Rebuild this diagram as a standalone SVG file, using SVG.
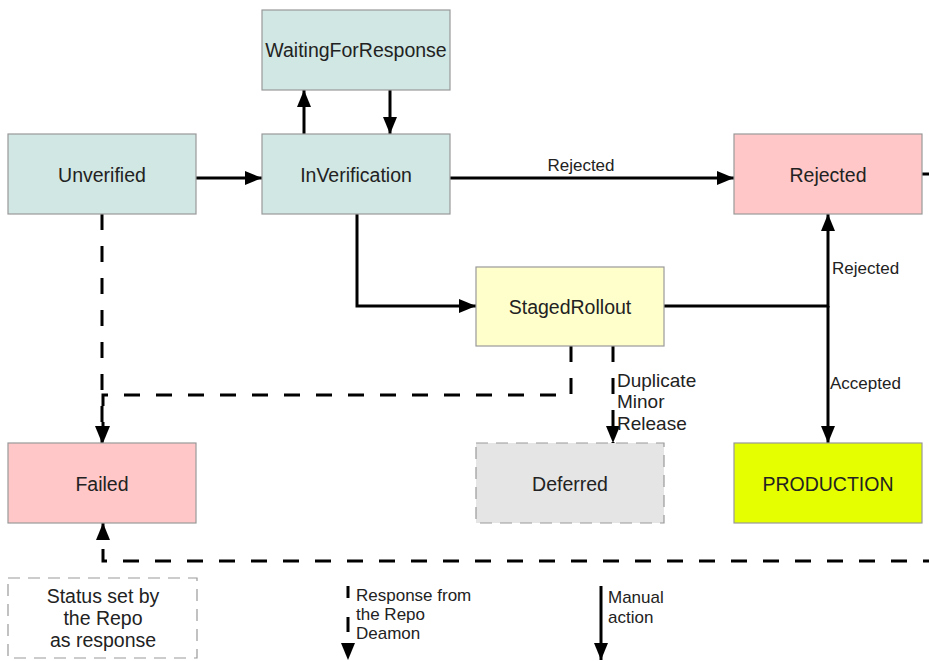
<svg xmlns="http://www.w3.org/2000/svg" width="929" height="661" viewBox="0 0 929 661">
<style>
.node{stroke:#999;stroke-width:1.2}
.teal{fill:#d0e7e3}
.red{fill:#ffc7c7}
.yellow{fill:#ffffcc}
.grey{fill:#e5e5e5;stroke-dasharray:12,8}
.prod{fill:#e6ff00}
.legend{fill:#fff;stroke-dasharray:12,8}
.lbl{font-family:"Liberation Sans",Arial,sans-serif;font-size:19.5px;fill:#222;text-anchor:middle}
.elbl{font-family:"Liberation Sans",Arial,sans-serif;font-size:17px;fill:#222}
.big{font-size:19px}
.solid{fill:none;stroke:#000;stroke-width:3}
.dash{fill:none;stroke:#000;stroke-width:3;stroke-dasharray:16,16}
</style>
<defs>
<marker id="ah" markerUnits="userSpaceOnUse" markerWidth="17" markerHeight="14" refX="17" refY="7" orient="auto">
<path d="M0,0 L17,7 L0,14 z" fill="#000"/>
</marker>
</defs>
<rect width="929" height="661" fill="#fff"/>
<g id="connectors">
<path class="solid" d="M194,178 H262" marker-end="url(#ah)"/>
<path class="solid" d="M304,134 V90" marker-end="url(#ah)"/>
<path class="solid" d="M390,90 V134" marker-end="url(#ah)"/>
<path class="solid" d="M450,178 H734" marker-end="url(#ah)"/>
<path class="solid" d="M357,214 V306 H476" marker-end="url(#ah)"/>
<path class="solid" d="M664,306 H828 V214" marker-end="url(#ah)"/>
<path class="solid" d="M828,306 V443" marker-end="url(#ah)"/>
<path class="dash" d="M102,214 V443" marker-end="url(#ah)"/>
<path class="dash" d="M571,346 V395 H103 V443" marker-end="url(#ah)"/>
<path class="dash" d="M613,346 V443" marker-end="url(#ah)"/>
<path class="dash" d="M922,174 H945 V561 H103 V523" marker-end="url(#ah)"/>
<text class="elbl" x="581" y="171" text-anchor="middle">Rejected</text>
<text class="elbl" x="832" y="274">Rejected</text>
<text class="elbl" x="830" y="389">Accepted</text>
<text class="elbl big" x="617" y="387">Duplicate</text>
<text class="elbl big" x="617" y="408">Minor</text>
<text class="elbl big" x="617" y="430">Release</text>
</g>
<g id="WaitingForResponse"><rect class="node teal" x="262" y="10" width="188" height="80"/><text class="lbl" x="356" y="57">WaitingForResponse</text></g>
<g id="Unverified"><rect class="node teal" x="8" y="134" width="188" height="80"/><text class="lbl" x="102" y="182">Unverified</text></g>
<g id="InVerification"><rect class="node teal" x="262" y="134" width="188" height="80"/><text class="lbl" x="356" y="182">InVerification</text></g>
<g id="Rejected"><rect class="node red" x="734" y="134" width="188" height="80"/><text class="lbl" x="828" y="182">Rejected</text></g>
<g id="StagedRollout"><rect class="node yellow" x="476" y="267" width="188" height="79"/><text class="lbl" x="570" y="314">StagedRollout</text></g>
<g id="Failed"><rect class="node red" x="8" y="443" width="188" height="80"/><text class="lbl" x="102" y="491">Failed</text></g>
<g id="Deferred"><rect class="node grey" x="476" y="443" width="188" height="80"/><text class="lbl" x="570" y="491">Deferred</text></g>
<g id="PRODUCTION"><rect class="node prod" x="734" y="443" width="188" height="80"/><text class="lbl" x="828" y="491">PRODUCTION</text></g>
<g id="legend">
<rect class="node legend" x="8" y="578" width="189" height="80"/>
<text class="lbl" x="103" y="603">Status set by</text>
<text class="lbl" x="103" y="625">the Repo</text>
<text class="lbl" x="103" y="647">as response</text>
<path d="M348,586 V660" fill="none" stroke="#000" stroke-width="3" stroke-dasharray="12,19,15,40" marker-end="url(#ah)"/>
<text class="elbl" x="356" y="601">Response from</text>
<text class="elbl" x="356" y="620">the Repo</text>
<text class="elbl" x="356" y="639">Deamon</text>
<path class="solid" d="M601,586 V660" marker-end="url(#ah)"/>
<text class="elbl" x="608" y="603">Manual</text>
<text class="elbl" x="608" y="623">action</text>
</g>
</svg>
